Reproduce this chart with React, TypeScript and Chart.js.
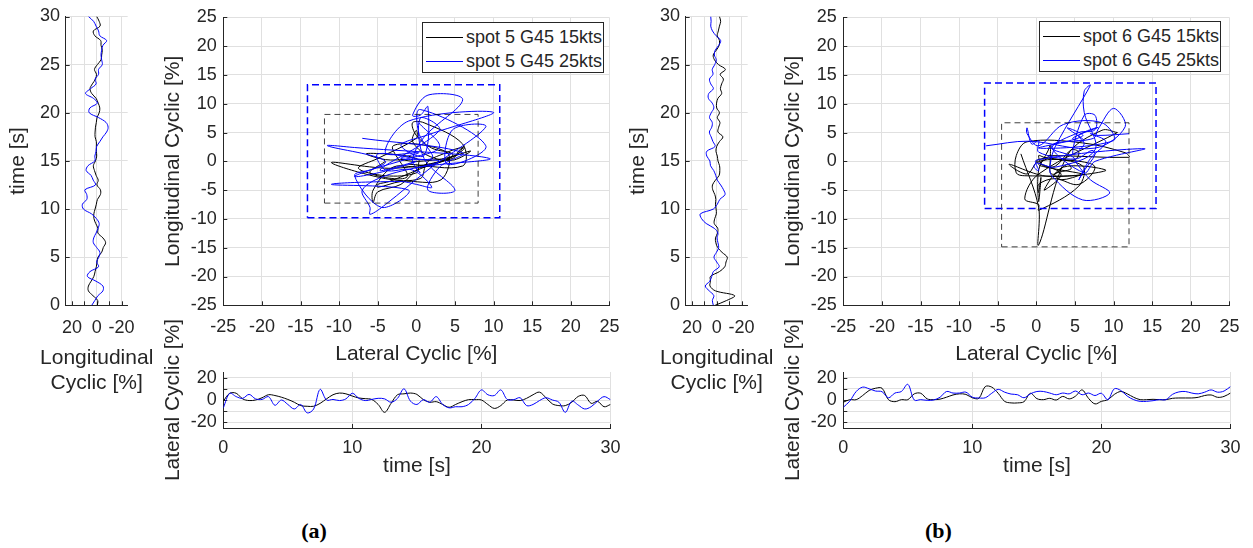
import React, { useEffect, useRef } from 'react';
import { Chart, registerables } from 'chart.js';

Chart.register(...registerables);

const FONT = '"Liberation Sans", Arial, Helvetica, sans-serif';
const TXT = '#262626';
const GRID = '#e0e0e0';
const BLACK = '#000000';
const BLUE = '#0000ff';

// ---- time base (s) ----
const TIME = [0, 0.5, 1, 1.5, 2, 2.5, 3, 3.5, 4, 4.5, 5, 5.5, 6, 6.5, 7, 7.5, 8, 8.5, 9, 9.5, 10, 10.5, 11, 11.5, 12, 12.5, 13, 13.5, 14, 14.5, 15, 15.5, 16, 16.5, 17, 17.5, 18, 18.5, 19, 19.5, 20, 20.5, 21, 21.5, 22, 22.5, 23, 23.5, 24, 24.5, 25, 25.5, 26, 26.5, 27, 27.5, 28, 28.5, 29, 29.5, 30];

// ---- panel (a): spot 5 ----
const A_LAT_15 = [-1, 6, 6, 1, -0.5, 0, 2, 4.7, 4, 2.5, 0.5, -2, -5, -5.6, -5.6, -3, 1, 4.7, 6.2, 5.5, 3.5, 1.8, 1.2, 0.5, -4, -11, -3, 4.7, 5.5, 6.2, 5, 0.3, -2, -1.5, -4, -6.5, -4, -1.5, 0.3, 0.3, 0, -4, -7.5, -5, 0, 0, -0.5, 1.5, 4.7, 7, 2, -3.5, -5, -5, -2, 3.2, 4, -3, -1.2, -6, -4];
const A_LON_15 = [-0.5, -0.8, 3, 6.7, 6.7, 4.5, 2.3, 1.3, 0.3, -0.3, -1, -4, -5.3, -7.2, -5, -1, -1, 0.8, 2.2, 2.3, 1.3, 0.3, -0.6, -3, -3, -0.2, -1.2, 0.5, 1.8, 2.7, 1, 0, 0.3, 0.3, 0.3, 1.3, 1.3, 1, 0.3, -0.3, -2, -2.5, -1.2, 0.5, 4, 5.4, 3.5, 1, 0.2, 1.8, -0.5, -3.5, -4, -4.5, -3.5, -3.2, 1.5, 2.7, -2.7, -2, 0];
const A_LAT_25 = [-7, 6, 3, 1.5, 5, 1, 0.5, 3, -4.7, 0, -4, -8, -4, -11.5, -8, 9.5, 0, 0.5, -0.5, 1, 6, 1.5, -0.5, 0.5, 1.5, 1, -2, 1.5, 10, -1, -4, 0.3, -2, 3, -4, -7, -6, -6, -4, 1.5, 9, 4.7, 4, 9, 0.5, 0.3, 2, -5, -4, -0.5, 2, 0, -2, -11, -1, -4.5, -8, -6, -1, 3, 0.3];
const A_LON_25 = [4, 1.5, -1, -5, -5, 0.5, 7.5, 5.4, -1.5, 0, -1.7, -2.6, 0, 2.7, 2.4, 0.5, -1.1, -2, 0.2, 4.2, 10.7, 11.5, 8, 8, 9.5, 1, 2.8, 4.6, 8.5, 7, 1.5, 1.5, 0.5, 0, -2.5, -5, -8, -9.2, -7.5, -1.5, 6, 5.5, -0.5, 2.7, 9, 5, 0.5, 1.3, -1.5, -1.5, -4.5, -4, -3.5, -4, -5, -8, -2.5, -1.5, 0.5, 2.5, 6.7];

// ---- panel (b): spot 6 ----
const B_LAT_15 = [-2, 0.3, 0.3, 4, 8.5, 10.5, 10.5, 0.3, -1.5, 0.3, 0.3, 5.5, 6, 1, 0.3, 0.8, 2.5, 4.5, 5.5, 5, 2, 1.5, 12, 11.5, 6, -1.2, -2.6, -2.6, -1.5, 6, 1.2, 0.3, 1.5, 0, 3.2, 1, 3.5, 9, 1.5, -3.5, -1.2, 0.3, 5, 7.6, 5.5, 2.4, 0.3, 0.3, 0.6, 0.3, 0.3, 1.5, 1.8, 1.8, 1.8, 2.4, 4, 4.5, 2.4, 3.2, 6.2];
const B_LON_15 = [1.3, -8, -14.5, 1, 5.4, 5, 5, -2.2, -6.5, -7.5, -8.5, -4.3, -0.8, 0.7, 1, -0.7, -0.8, 2, 1.6, 0.3, 0.5, 1, 0.7, 1.5, 3.2, 3.4, 1, -2, -2.5, -2.3, -1, -0.5, 0.6, 0, -2.2, -5, -1, -1.6, -2.6, -0.5, -2.2, 0, 0.1, -1, -4, -3, -4, -5.4, -2.8, -7, -1.5, 1.8, 2.8, 0.3, -2, -2.2, -0.5, -1.3, -2.2, -3.2, -2.2];
const B_LAT_25 = [-6.5, -1, 7.6, 11.5, 10, 8, 7.4, 2, 6.2, 7.6, 14, 0, 0.3, -0.3, 0, 2.5, 7.6, 6.2, 6.2, 7, 2.5, 1.8, 2, 6, 9.5, 7, 5.3, 4.7, 2, 5.5, 7.6, 7.6, 6.2, 4.7, 6.2, 5.5, 8, 4.7, 6.2, 4, 6, 0.3, 10, 8.5, 3.5, 0.3, -1.2, -1.2, -0.6, 0.3, 0.3, 5, 7.2, 7.6, 6.2, 5.5, 7, 9, 7, 8, 12];
const B_LON_25 = [2.7, 3.5, 2.3, 6, 9.2, 5.6, 4, 2.7, -2, 0, 2.2, 0.2, -1.6, -1, -0.3, -1, 2, 8.5, 12.2, 13.2, 2.7, -0.5, -2.5, -6.7, -5.5, -3.2, -0.5, 0.8, 2.4, 5, 5.5, 8, 8, 1.3, 3, 4.5, 5.9, 4, 3.6, 5.8, 4.4, 2.3, 3.6, 6.7, 6.4, 2.7, 4.8, 5.8, 3, 3.6, 1.6, 0.4, 1.9, 1.2, -1.6, -3.2, 0.5, 3.4, 4.8, 4.5, 4.8];

// ---- envelope boxes: [lat min, lat max, lon min, lon max] ----
const BOX_A_15 = [-11.9, 8.0, -7.25, 8.15];
const BOX_A_25 = [-14.1, 10.8, -9.8, 13.3];
const BOX_B_15 = [-4.5, 12.0, -14.85, 6.7];
const BOX_B_25 = [-6.7, 15.5, -8.2, 13.6];

// ---- legends ----
const LEGEND_A = ['spot 5 G45 15kts', 'spot 5 G45 25kts'];
const LEGEND_B = ['spot 6 G45 15kts', 'spot 6 G45 25kts'];
const LEGEND_COLORS = [BLACK, BLUE];

// ---- ticks & axis titles ----
const MAIN_TICKS = [-25, -20, -15, -10, -5, 0, 5, 10, 15, 20, 25];
const MAIN_LABELS = ['-25', '-20', '-15', '-10', '-5', '0', '5', '10', '15', '20', '25'];
const SIDE_TICKS = [-20, -10, 0, 10, 20];
const SIDE_LABELS = ['-20', '', '0', '', '20'];
const TIME_SIDE_TICKS = [0, 5, 10, 15, 20, 25, 30];
const TIME_SIDE_LABELS = ['0', '5', '10', '15', '20', '25', '30'];
const TIME_BOTTOM_TICKS = [0, 10, 20, 30];
const TIME_BOTTOM_LABELS = ['0', '10', '20', '30'];
const SIDE_X_TITLE = ['Longitudinal', 'Cyclic [%]'];

const inwardTicks = {
  id: 'inwardTicks',
  beforeDatasetsDraw(chart: any) {
    const { ctx, chartArea: a, scales } = chart;
    const xs = scales.x;
    const ys = scales.y;
    ctx.save();
    ctx.strokeStyle = TXT;
    ctx.lineWidth = 1;
    ctx.beginPath();
    xs.ticks.forEach((t: any) => {
      const p = Math.round(xs.getPixelForValue(t.value)) + 0.5;
      ctx.moveTo(p, a.bottom);
      ctx.lineTo(p, a.bottom - 4);
    });
    ys.ticks.forEach((t: any) => {
      const p = Math.round(ys.getPixelForValue(t.value)) + 0.5;
      ctx.moveTo(a.left, p);
      ctx.lineTo(a.left + 4, p);
    });
    ctx.stroke();
    ctx.restore();
  },
};

function axis(o: {
  min: number; max: number; ticks: number[]; labels: string[]; reverse?: boolean;
  title: string | null; titlePad: any; tickPad: number; size: number; horizontal: boolean;
}) {
  return {
    type: 'linear',
    min: o.min,
    max: o.max,
    reverse: !!o.reverse,
    afterBuildTicks: (s: any) => { s.ticks = o.ticks.map((v) => ({ value: v })); },
    afterFit: (s: any) => { if (o.horizontal) s.height = o.size; else s.width = o.size; },
    ticks: {
      autoSkip: false, maxRotation: 0, minRotation: 0, padding: o.tickPad, color: TXT,
      font: { family: FONT, size: 18 },
      callback: (v: any, i: number) => o.labels[i] ?? '',
    },
    grid: { color: GRID, drawTicks: false, lineWidth: 1 },
    border: { display: true, color: TXT, width: 1 },
    title: { display: !!o.title, text: o.title || '', color: TXT, font: { family: FONT, size: 21 }, padding: o.titlePad },
  };
}

const pts = (xs: number[], ys: number[]) => xs.map((x, i) => ({ x, y: ys[i] }));
const boxPts = (b: number[]) => [
  { x: b[0], y: b[2] }, { x: b[1], y: b[2] }, { x: b[1], y: b[3] }, { x: b[0], y: b[3] }, { x: b[0], y: b[2] },
];

function line(data: any[], color: string, order: number, extra: any = {}) {
  return { data, showLine: true, borderColor: color, borderWidth: 1, pointRadius: 0, tension: 0.35, fill: false, order, ...extra };
}

function baseOptions(padding: any, x: any, y: any) {
  return {
    responsive: false,
    animation: false,
    devicePixelRatio: 1,
    events: [],
    layout: { padding },
    plugins: { legend: { display: false }, tooltip: { enabled: false } },
    scales: { x, y },
  };
}

function ChartBox({ left, top, width, height, make }: any) {
  const ref = useRef<HTMLCanvasElement>(null);
  useEffect(() => {
    const chart = new Chart(ref.current as HTMLCanvasElement, make());
    return () => chart.destroy();
  }, []);
  return (
    <canvas ref={ref} width={width} height={height}
      style={{ position: 'absolute', left, top, width, height }} />
  );
}

function Legend({ left, top, labels }: any) {
  const rowY = [14, 38];
  return (
    <div style={{ position: 'absolute', left, top, width: 182, height: 51, border: `1px solid ${TXT}`, background: '#fff', boxSizing: 'border-box', zIndex: 5 }}>
      {labels.map((lab: string, i: number) => (
        <React.Fragment key={i}>
          <div style={{ position: 'absolute', left: 3, top: rowY[i], width: 37, height: 1, background: LEGEND_COLORS[i] }} />
          <div style={{ position: 'absolute', left: 43, top: rowY[i] - 11, height: 22, lineHeight: '22px', fontFamily: FONT, fontSize: 18, color: TXT, whiteSpace: 'nowrap' }}>{lab}</div>
        </React.Fragment>
      ))}
    </div>
  );
}

function Panel({ dx, lat15, lon15, lat25, lon25, box15, box25, legend, tag }: any) {
  const makeSide = () => ({
    type: 'scatter',
    data: {
      datasets: [
        line(pts(lon25, TIME), BLUE, 1),
        line(pts(lon15, TIME), BLACK, 2),
      ],
    },
    options: baseOptions(
      { top: 13.3, right: 22.3, left: 0, bottom: 0 },
      axis({ min: -25, max: 25, reverse: true, ticks: SIDE_TICKS, labels: SIDE_LABELS, title: null, titlePad: 0, tickPad: 12, size: 94.7, horizontal: true }),
      axis({ min: 0, max: 30, ticks: TIME_SIDE_TICKS, labels: TIME_SIDE_LABELS, title: 'time [s]', titlePad: { top: 5.4, bottom: 0 }, tickPad: 5.7, size: 65.7, horizontal: false }),
    ),
    plugins: [inwardTicks],
  });
  const makeMain = () => ({
    type: 'scatter',
    data: {
      datasets: [
        line(boxPts(box25), BLUE, 0, { tension: 0, borderWidth: 1.5, borderDash: [7, 4] }),
        line(boxPts(box15), 'rgba(0,0,0,0.75)', 0, { tension: 0, borderDash: [6, 4] }),
        line(pts(lat25, lon25), BLUE, 1),
        line(pts(lat15, lon15), BLACK, 2),
      ],
    },
    options: baseOptions(
      { top: 13.3, right: 19.3, left: 0, bottom: 0 },
      axis({ min: -25, max: 25, ticks: MAIN_TICKS, labels: MAIN_LABELS, title: 'Lateral Cyclic [%]', titlePad: { top: 0, bottom: 3.4 }, tickPad: 10.6, size: 64.7, horizontal: true }),
      axis({ min: -25, max: 25, ticks: MAIN_TICKS, labels: MAIN_LABELS, title: 'Longitudinal Cyclic [%]', titlePad: { top: 10.4, bottom: 0 }, tickPad: 6.6, size: 73.3, horizontal: false }),
    ),
    plugins: [inwardTicks],
  });
  const makeBottom = () => ({
    type: 'scatter',
    data: {
      datasets: [
        line(pts(TIME, lat25), BLUE, 1),
        line(pts(TIME, lat15), BLACK, 2),
      ],
    },
    options: baseOptions(
      { top: 72, right: 19.3, left: 0, bottom: 0 },
      axis({ min: 0, max: 30, ticks: TIME_BOTTOM_TICKS, labels: TIME_BOTTOM_LABELS, title: 'time [s]', titlePad: { top: 0, bottom: 10.7 }, tickPad: 9.5, size: 62, horizontal: true }),
      axis({ min: -25, max: 25, ticks: SIDE_TICKS, labels: SIDE_LABELS, title: 'Lateral Cyclic [%]', titlePad: { top: 10.4, bottom: 0 }, tickPad: 6.6, size: 73.3, horizontal: false }),
    ),
    plugins: [inwardTicks],
  });
  return (
    <>
      <ChartBox left={dx} top={0} width={150} height={400} make={makeSide} />
      <ChartBox left={150 + dx} top={0} width={480} height={370} make={makeMain} />
      <ChartBox left={150 + dx} top={300} width={480} height={190} make={makeBottom} />
      <div style={{ position: 'absolute', left: dx + 96.7 - 80, top: 344, width: 160, textAlign: 'center', fontFamily: FONT, fontSize: 21, lineHeight: '25px', color: TXT, zIndex: 4 }}>
        {SIDE_X_TITLE.map((t, i) => <div key={i}>{t}</div>)}
      </div>
      <Legend left={legend.left} top={legend.top} labels={legend.labels} />
      <div style={{ position: 'absolute', left: tag.x - 30, top: 520, width: 60, textAlign: 'center', fontFamily: '"Liberation Serif", "Times New Roman", serif', fontWeight: 'bold', fontSize: 22, lineHeight: '22px', color: '#000' }}>{tag.text}</div>
    </>
  );
}

export default function App() {
  return (
    <div style={{ position: 'absolute', left: 0, top: 0, width: 1253, height: 548, background: '#fff', overflow: 'hidden' }}>
      <Panel dx={0} lat15={A_LAT_15} lon15={A_LON_15} lat25={A_LAT_25} lon25={A_LON_25}
        box15={BOX_A_15} box25={BOX_A_25}
        legend={{ left: 422, top: 22, labels: LEGEND_A }} tag={{ x: 314, text: '(a)' }} />
      <Panel dx={620} lat15={B_LAT_15} lon15={B_LON_15} lat25={B_LAT_25} lon25={B_LON_25}
        box15={BOX_B_15} box25={BOX_B_25}
        legend={{ left: 1039, top: 21, labels: LEGEND_B }} tag={{ x: 938.5, text: '(b)' }} />
    </div>
  );
}
